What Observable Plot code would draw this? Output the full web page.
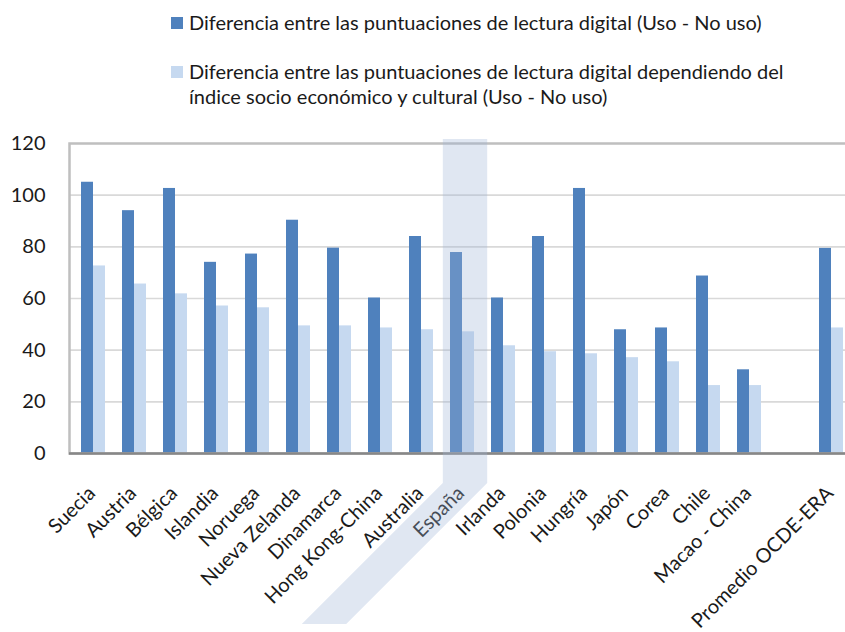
<!DOCTYPE html>
<html>
<head>
<meta charset="utf-8">
<script src="https://cdn.jsdelivr.net/npm/d3@7"></script>
<script src="https://cdn.jsdelivr.net/npm/@observablehq/plot@0.6"></script>
<style>
html, body { margin: 0; padding: 0; background: #fff; overflow: hidden; width: 845px; height: 632px; }
#legend { position: relative; height: 130px; font-family: Lato, "Open Sans", sans-serif; color: #1a1a1a; }
.item { position: absolute; left: 189px; font-size: 20px; line-height: 25px; white-space: nowrap; }
.sw { position: absolute; left: 171px; width: 12px; height: 12px; }
#chart svg { display: block; }
</style>
</head>
<body>
<div id="legend"></div>
<div id="chart"></div>
<script>
const categories = ["Suecia", "Austria", "Bélgica", "Islandia", "Noruega", "Nueva Zelanda", "Dinamarca",
  "Hong Kong-China", "Australia", "España", "Irlanda", "Polonia", "Hungría", "Japón", "Corea", "Chile",
  "Macao - China", " ", "Promedio OCDE-ERA"];
const usoValues = [105, 94, 102.6, 74, 77.2, 90.3, 79.5, 60.2, 84, 77.8, 60.2, 84, 102.6, 47.9, 48.6, 68.7, 32.4, null, 79.4];
const indiceValues = [72.6, 65.6, 61.8, 57.1, 56.4, 49.4, 49.4, 48.6, 47.9, 47.1, 41.7, 39.4, 38.6, 37.1, 35.5, 26.3, 26.3, null, 48.6];
const seriesNames = [
  "Diferencia entre las puntuaciones de lectura digital (Uso - No uso)",
  "Diferencia entre las puntuaciones de lectura digital dependiendo del\níndice socio económico y cultural (Uso - No uso)"
];
const seriesColors = ["#4f81bd", "#c6d9f0"];
const yTicks = [0, 20, 40, 60, 80, 100, 120];
const highlighted = "España";

// legend
const legend = document.getElementById("legend");
const legendTops = [10, 59];
seriesNames.forEach((name, i) => {
  const sw = document.createElement("div");
  sw.className = "sw";
  sw.style.top = (legendTops[i] + 7) + "px";
  sw.style.background = seriesColors[i];
  legend.appendChild(sw);
  const t = document.createElement("div");
  t.className = "item";
  t.style.top = legendTops[i] + "px";
  t.innerHTML = name.split("\n").join("<br>");
  legend.appendChild(t);
});

const data = categories.map((c, i) => ({cat: c, uso: usoValues[i], indice: indiceValues[i]}))
  .filter(d => d.uso != null);

function highlightMark(index, scales, values, dimensions) {
  const xs = scales.x, ys = scales.y;
  const bw = typeof xs.bandwidth === "function" ? xs.bandwidth() : (xs.bandwidth ?? 24);
  const c = xs(highlighted) + bw / 2;
  const L = c - 19.2, R = c + 25.2;
  const top = ys(120) - 4;
  const b1 = ys(0) + 30;
  const b2 = ys(0) + 171;
  const s = b2 - b1;
  const path = d3.create("svg:path")
    .attr("d", `M${L},${top}L${R},${top}L${R},${b1}L${R - s},${b2}L${L - s},${b2}L${L},${b1}Z`)
    .attr("fill", "rgb(158,179,214)")
    .attr("fill-opacity", 0.32);
  return path.node();
}

const chart = Plot.plot({
  width: 845,
  height: 502,
  marginTop: 13,
  marginBottom: 179,
  marginLeft: 69,
  marginRight: -10,
  style: {fontFamily: "Lato, 'Open Sans', sans-serif", color: "#1a1a1a", background: "transparent"},
  x: {domain: categories, paddingInner: 0.42, paddingOuter: 0.21, axis: null},
  y: {domain: [0, 120], axis: null},
  marks: [
    Plot.gridY(yTicks.filter(d => d > 0 && d < 120), {stroke: "#d9d9d9", strokeOpacity: 1, strokeWidth: 1.6}),
    Plot.barY(data, {x: "cat", y: "uso", fill: seriesColors[0], insetRight: 12, insetLeft: 0}),
    Plot.barY(data, {x: "cat", y: "indice", fill: seriesColors[1], insetLeft: 12, insetRight: 0}),
    Plot.frame({stroke: "#bfbfbf", strokeWidth: 2.5}),
    Plot.ruleY([0], {stroke: "#878787", strokeWidth: 2.5}),
    Plot.axisY({ticks: yTicks, tickSize: 0, tickPadding: 24, fontSize: 20, fill: "#1a1a1a"}),
    Plot.text(categories.filter(c => c.trim() !== ""), {
      x: d => d, frameAnchor: "bottom", dx: 3, dy: 41, rotate: -45,
      textAnchor: "end", lineAnchor: "bottom", fontSize: 20, fill: "#1a1a1a"
    }),
    highlightMark
  ]
});
document.getElementById("chart").appendChild(chart);
</script>
</body>
</html>
